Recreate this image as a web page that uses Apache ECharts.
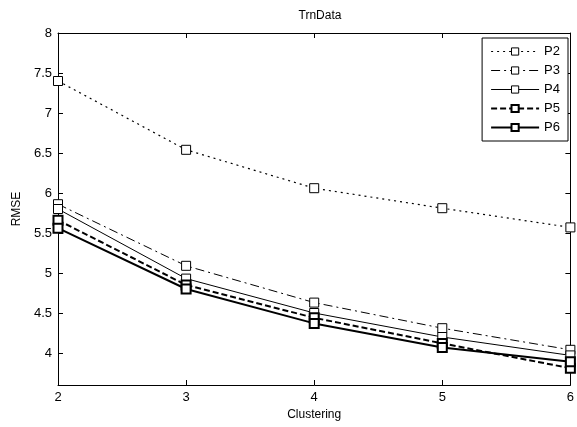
<!DOCTYPE html>
<html>
<head>
<meta charset="utf-8">
<script src="https://cdn.jsdelivr.net/npm/echarts@6/dist/echarts.min.js"></script>
<style>
  html, body { margin: 0; padding: 0; background: #fff; }
  #chart { width: 577px; height: 427px; }
</style>
</head>
<body>
<div id="chart"></div>
<script>
// 数据
const clusters = [2, 3, 4, 5, 6]
const p2 = [7.40, 6.54, 6.06, 5.81, 5.57]
const p3 = [5.86, 5.09, 4.63, 4.31, 4.04]
const p4 = [5.80, 4.93, 4.50, 4.20, 3.97]
const p5 = [5.66, 4.85, 4.44, 4.12, 3.81]
const p6 = [5.56, 4.80, 4.37, 4.07, 3.89]
const yTicks = [4, 4.5, 5, 5.5, 6, 6.5, 7, 7.5, 8]

const font = 'Liberation Sans, Arial, sans-serif'

const pair = (ys) => clusters.map((x, i) => [x, ys[i]])

// 线型设置
const styles = {
  P2: { width: 1.2, type: [2, 4], border: 1 },
  P3: { width: 1, type: [9, 4, 2, 4], border: 1 },
  P4: { width: 1, type: 'solid', border: 1 },
  P5: { width: 2, type: [6, 3], border: 2 },
  P6: { width: 2, type: 'solid', border: 2 }
}

const mkSeries = (name, ys) => ({
  name: name,
  type: 'line',
  data: pair(ys),
  symbol: 'rect',
  symbolSize: 9,
  showSymbol: true,
  itemStyle: { color: '#fff', borderColor: '#000', borderWidth: styles[name].border },
  lineStyle: { color: '#000', width: styles[name].width, type: styles[name].type },
  emphasis: { disabled: true }
})

const legendItem = (name) => ({
  name: name,
  itemStyle: { color: '#fff', borderColor: '#000', borderWidth: styles[name].border },
  lineStyle: { color: '#000', width: styles[name].width, type: styles[name].type }
})

const chart = echarts.init(document.getElementById('chart'))

const option = {
  animation: false,
  title: {
    text: 'TrnData',
    left: 315,
    top: 5,
    textAlign: 'center',
    textStyle: { fontFamily: font, fontSize: 12, fontWeight: 'normal', color: '#000' }
  },
  grid: { left: 58, right: 4, top: 33, bottom: 42 },
  legend: {
    orient: 'vertical',
    right: 9,
    top: 38,
    padding: [7, 8, 7, 8],
    itemGap: 6,
    itemWidth: 48,
    itemHeight: 9,
    borderColor: '#000',
    borderWidth: 1,
    backgroundColor: '#fff',
    textStyle: { fontFamily: font, fontSize: 13, color: '#000' },
    data: ['P2', 'P3', 'P4', 'P5', 'P6'].map(legendItem)
  },
  xAxis: [
    {
      type: 'value', min: 2, max: 6, interval: 1,
      name: 'Clustering', nameLocation: 'middle', nameGap: 22,
      nameTextStyle: { fontFamily: font, fontSize: 12, color: '#000' },
      axisLine: { lineStyle: { color: '#000', width: 1 } },
      axisTick: { inside: true, length: 5, lineStyle: { color: '#000' } },
      axisLabel: { fontFamily: font, fontSize: 13, color: '#000', margin: 6 },
      splitLine: { show: false }
    },
    {
      type: 'value', min: 2, max: 6, interval: 1, position: 'top',
      axisLine: { lineStyle: { color: '#000', width: 1 } },
      axisTick: { inside: true, length: 5, lineStyle: { color: '#000' } },
      axisLabel: { show: false },
      splitLine: { show: false }
    }
  ],
  yAxis: [
    {
      type: 'value', min: 3.6, max: 8,
      name: 'RMSE', nameLocation: 'middle', nameGap: 32,
      nameTextStyle: { fontFamily: font, fontSize: 12, color: '#000' },
      axisLine: { lineStyle: { color: '#000', width: 1 } },
      axisTick: { inside: true, length: 5, lineStyle: { color: '#000' }, customValues: yTicks },
      axisLabel: { fontFamily: font, fontSize: 13, color: '#000', margin: 6, customValues: yTicks },
      splitLine: { show: false }
    },
    {
      type: 'value', min: 3.6, max: 8, position: 'right',
      axisLine: { lineStyle: { color: '#000', width: 1 } },
      axisTick: { inside: true, length: 5, lineStyle: { color: '#000' }, customValues: yTicks },
      axisLabel: { show: false },
      splitLine: { show: false }
    }
  ],
  series: [
    mkSeries('P2', p2),
    mkSeries('P3', p3),
    mkSeries('P4', p4),
    mkSeries('P5', p5),
    mkSeries('P6', p6)
  ]
}

chart.setOption(option)
</script>
</body>
</html>
